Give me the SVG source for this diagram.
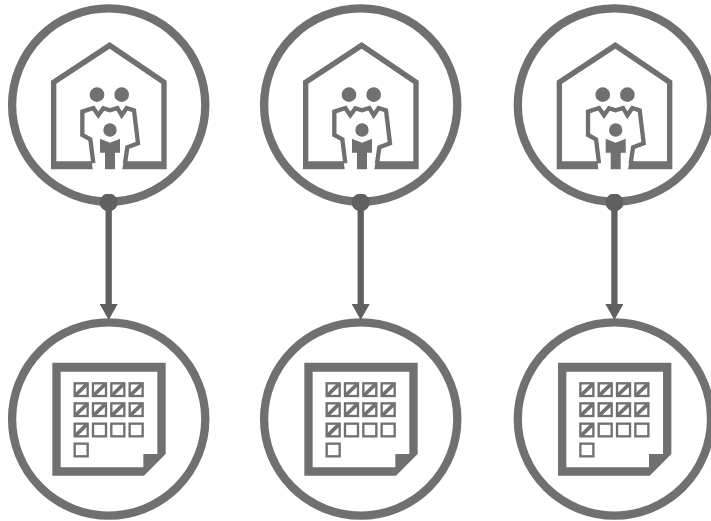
<svg xmlns="http://www.w3.org/2000/svg" width="711" height="521" viewBox="0 0 711 521">
<style>
.ring{fill:#fff;stroke:#707070;stroke-width:8.3}
.g{fill:#707070}
.o{fill:none;stroke:#707070;stroke-width:13;stroke-linejoin:miter}
.sq{fill:#fff;stroke:#707070;stroke-width:7}
.d{fill:none;stroke:#707070;stroke-width:11}
.line{stroke:#606060;stroke-width:6.3;fill:none}
</style>
<defs>
<marker id="ah" markerUnits="userSpaceOnUse" markerWidth="18" markerHeight="18" refX="2" refY="9" orient="auto"><path d="M0 0L16 9L0 18Z" fill="#606060"/></marker>
<marker id="dt" markerUnits="userSpaceOnUse" markerWidth="18" markerHeight="18" refX="9" refY="9"><circle cx="9" cy="9" r="9" fill="#606060"/></marker>
<g id="box"><rect class="sq" x="104" y="100" width="39" height="38"/></g>
<g id="tick"><rect class="sq" x="104" y="100" width="39" height="38"/><path class="d" d="M107 135L140 103"/></g>
<g id="house">
<circle class="ring" cx="108.7" cy="105" r="96.6"/>
<g transform="translate(40 30) scale(.33333)">
<path class="g" d="M209 36L380 152V418H247L251 394H364V161L209 56L49 161V394H155L158 418H33V152Z"/>
<circle class="g" cx="171" cy="194" r="22"/><circle class="g" cx="245" cy="194" r="22"/>
<path class="o" d="M160 400L151 328L127 315V245L160 234L175 256L190 235L210 241L232 234L245 256L260 234L282 241L294 340L262 352L255 400"/>
<circle class="g" cx="210" cy="300" r="20"/>
<path class="g" d="M180 326L210 338L240 326V368H225V418H195V368H180Z"/>
</g>
</g>
<g id="cal">
<circle class="ring" cx="108.7" cy="419" r="96.6"/>
<g transform="translate(40 350) scale(.33333)">
<path class="g" fill-rule="evenodd" d="M37 38H377V312L312 377H37ZM62 65V352H310V312H352V65Z"/>
<use href="#tick"/><use href="#tick" x="55"/><use href="#tick" x="110"/><use href="#tick" x="165"/>
<use href="#tick" y="60"/><use href="#tick" x="55" y="60"/><use href="#tick" x="110" y="60"/><use href="#tick" x="165" y="60"/>
<use href="#tick" y="121"/><use href="#box" x="55" y="121"/><use href="#box" x="110" y="121"/><use href="#box" x="165" y="121"/>
<use href="#box" y="181"/>
</g>
</g>
</defs>
<g id="family-1"><use href="#house"/></g>
<g id="family-2"><use href="#house" x="252"/></g>
<g id="family-3"><use href="#house" x="505.7"/></g>
<g id="calendar-1"><use href="#cal"/></g>
<g id="calendar-2"><use href="#cal" x="252"/></g>
<g id="calendar-3"><use href="#cal" x="505.7"/></g>
<g id="connectors">
<path class="line" d="M108.7 202.5V306" marker-start="url(#dt)" marker-end="url(#ah)"/>
<path class="line" d="M360.7 202.5V306" marker-start="url(#dt)" marker-end="url(#ah)"/>
<path class="line" d="M614.4 202.5V306" marker-start="url(#dt)" marker-end="url(#ah)"/>
</g>
</svg>
